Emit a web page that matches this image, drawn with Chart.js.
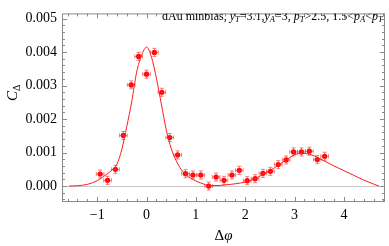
<!DOCTYPE html>
<html>
<head>
<meta charset="utf-8">
<script src="https://cdn.jsdelivr.net/npm/chart.js@4.4.0/dist/chart.umd.min.js"></script>
<style>
  html, body { margin: 0; padding: 0; background: #fff; }
  #wrap { width: 389px; height: 246px; }
</style>
</head>
<body>
<div id="wrap"><canvas id="grafico"></canvas></div>
<script>
// datos
const phi = [-0.94, -0.79, -0.63, -0.47, -0.31, -0.16, 0.00, 0.16, 0.31, 0.47, 0.63, 0.79, 0.94, 1.10, 1.26,
             1.41, 1.57, 1.73, 1.88, 2.04, 2.20, 2.36, 2.51, 2.67, 2.83, 2.98, 3.14, 3.30, 3.46, 3.61];
const cDelta = [0.00036, 0.00017, 0.00050, 0.00151, 0.00302, 0.00387, 0.00334, 0.00399, 0.00280, 0.00145, 0.00093,
                0.00037, 0.00033, 0.00033, 0.00000, 0.00027, 0.00017, 0.00033, 0.00047, 0.00016, 0.00022, 0.00038,
                0.00044, 0.00064, 0.00078, 0.00102, 0.00102, 0.00104, 0.00079, 0.00089];
const phiErr = [0.078, 0.078, 0.078, 0.078, 0.078, 0.078, 0.078, 0.078, 0.078, 0.078, 0.078, 0.078, 0.078, 0.078, 0.078,
                0.078, 0.078, 0.078, 0.078, 0.078, 0.078, 0.078, 0.078, 0.078, 0.078, 0.078, 0.078, 0.078, 0.078, 0.078];
const cErr = [0.00012, 0.00012, 0.00012, 0.00012, 0.00012, 0.00012, 0.00012, 0.00012, 0.00012, 0.00012, 0.00012,
              0.00012, 0.00012, 0.00012, 0.00012, 0.00012, 0.00012, 0.00012, 0.00012, 0.00012, 0.00012, 0.00012,
              0.00012, 0.00012, 0.00012, 0.00012, 0.00012, 0.00012, 0.00012, 0.00012];

// curva de ajuste
const fitPhi = [-1.57, -1.4, -1.2, -1.0, -0.9, -0.8, -0.7, -0.6, -0.5, -0.4, -0.3, -0.2, -0.1, 0, 0.1, 0.2, 0.3, 0.4,
                0.5, 0.6, 0.7, 0.8, 0.9, 1.0, 1.1, 1.2, 1.3, 1.5, 1.7, 1.9, 2.1, 2.3, 2.5, 2.7, 2.9, 3.0, 3.14, 3.3,
                3.4, 3.6, 3.8, 4.0, 4.2, 4.4, 4.6, 4.71];
const fitC = [0, 0.00001, 0.00005, 0.00016, 0.00025, 0.00036, 0.00048, 0.00065, 0.00110, 0.00178, 0.00252, 0.00340,
              0.00390, 0.00415, 0.00385, 0.00322, 0.00245, 0.00168, 0.00112, 0.00076, 0.00050, 0.00033, 0.00023,
              0.00015, 0.00009, 0.00004, 0.00001, 0.00002, 0.00005, 0.00009, 0.00016, 0.00030, 0.00046, 0.00065,
              0.00085, 0.00093, 0.00098, 0.00095, 0.00090, 0.00075, 0.00060, 0.00046, 0.00032, 0.00018, 0.00006, 0];

const xTicks = [-1, 0, 1, 2, 3, 4];
const yTicks = [0, 0.001, 0.002, 0.003, 0.004, 0.005];

const serif = "'Liberation Serif', 'DejaVu Serif', serif";
const frameColor = '#8a8a8a';

// barras de error
const errorBars = {
    id: 'errorBars',
    afterDatasetsDraw(chart) {
        const ctx = chart.ctx;
        const xs = chart.scales.x, ys = chart.scales.y;
        ctx.save();
        ctx.strokeStyle = 'rgba(255,40,40,0.6)';
        ctx.lineWidth = 1;
        phi.forEach((p, i) => {
            const px = xs.getPixelForValue(p), py = ys.getPixelForValue(cDelta[i]);
            const x0 = xs.getPixelForValue(p - phiErr[i]), x1 = xs.getPixelForValue(p + phiErr[i]);
            const y0 = ys.getPixelForValue(cDelta[i] - cErr[i]), y1 = ys.getPixelForValue(cDelta[i] + cErr[i]);
            ctx.beginPath();
            ctx.moveTo(x0, py); ctx.lineTo(x1, py);
            ctx.moveTo(x0, py - 2); ctx.lineTo(x0, py + 2);
            ctx.moveTo(x1, py - 2); ctx.lineTo(x1, py + 2);
            ctx.moveTo(px, y0); ctx.lineTo(px, y1);
            ctx.moveTo(px - 2, y0); ctx.lineTo(px + 2, y0);
            ctx.moveTo(px - 2, y1); ctx.lineTo(px + 2, y1);
            ctx.stroke();
        });
        ctx.restore();
    }
};

// marco con ticks hacia adentro, linea cero y textos
const frame = {
    id: 'frame',
    beforeDatasetsDraw(chart) {
        const ctx = chart.ctx, a = chart.chartArea;
        const ys = chart.scales.y;
        ctx.save();
        ctx.strokeStyle = '#c8c8c8';
        ctx.lineWidth = 1;
        const y0 = Math.round(ys.getPixelForValue(0)) + 0.5;
        ctx.beginPath(); ctx.moveTo(a.left, y0); ctx.lineTo(a.right, y0); ctx.stroke();
        ctx.restore();
    },
    afterDraw(chart) {
        const ctx = chart.ctx, a = chart.chartArea;
        const xs = chart.scales.x, ys = chart.scales.y;
        ctx.save();
        ctx.strokeStyle = frameColor;
        ctx.lineWidth = 1;
        ctx.strokeRect(a.left + 0.5, a.top + 0.5, a.right - a.left - 1, a.bottom - a.top - 1);
        ctx.beginPath();
        for (let k = -8; k <= 24; k++) {
            const v = k * 0.2;
            if (v < xs.min || v > xs.max) continue;
            const px = Math.round(xs.getPixelForValue(v)) + 0.5;
            const len = (k % 5 === 0) ? 5 : 3;
            ctx.moveTo(px, a.bottom); ctx.lineTo(px, a.bottom - len);
            ctx.moveTo(px, a.top); ctx.lineTo(px, a.top + len);
        }
        for (let k = -2; k <= 25; k++) {
            const v = k * 0.0002;
            if (v < ys.min || v > ys.max) continue;
            const py = Math.round(ys.getPixelForValue(v)) + 0.5;
            const len = (k % 5 === 0) ? 5 : 3;
            ctx.moveTo(a.left, py); ctx.lineTo(a.left + len, py);
            ctx.moveTo(a.right, py); ctx.lineTo(a.right - len, py);
        }
        ctx.stroke();

        // titulo interno
        ctx.fillStyle = '#000';
        ctx.textBaseline = 'alphabetic';
        let x = 162;
        const base = 20;
        const big = 12, small = 8.5;
        const part = (t, style, size, dy) => {
            ctx.font = style + ' ' + size + 'px ' + serif;
            ctx.fillText(t, x, base + dy);
            x += ctx.measureText(t).width;
        };
        ctx.beginPath();
        ctx.rect(a.left, a.top, a.right - a.left, a.bottom - a.top);
        ctx.clip();
        part('dAu minbias, ', '', big, 0);
        part('y', 'italic', big, 0); part('T', 'italic', small, 2);
        part('=3.1,', '', big, 0);
        part('y', 'italic', big, 0); part('A', 'italic', small, 2);
        part('=3, ', '', big, 0);
        part('p', 'italic', big, 0); part('T', 'italic', small, 2);
        part('>2.5, 1.5<', '', big, 0);
        part('p', 'italic', big, 0); part('A', 'italic', small, 2);
        part('<', '', big, 0);
        part('p', 'italic', big, 0); part('T', 'italic', small, 2);
        ctx.restore();

        // etiquetas de ejes
        ctx.save();
        ctx.fillStyle = '#000';
        ctx.textBaseline = 'alphabetic';
        const lx = (a.left + a.right) / 2;
        ctx.font = '15px ' + serif;
        const wD = ctx.measureText('\u0394').width;
        ctx.font = 'italic 15px ' + serif;
        const wP = ctx.measureText('\u03c6').width;
        ctx.font = '15px ' + serif;
        ctx.fillText('\u0394', lx - (wD + wP) / 2, 240);
        ctx.font = 'italic 15px ' + serif;
        ctx.fillText('\u03c6', lx - (wD + wP) / 2 + wD, 240);

        ctx.translate(17, 101);
        ctx.rotate(-Math.PI / 2);
        ctx.font = 'italic 15px ' + serif;
        ctx.fillText('C', 0, 0);
        const wC = ctx.measureText('C').width;
        ctx.font = '10px ' + serif;
        ctx.fillText('\u0394', wC, 3);
        ctx.restore();
    }
};

new Chart(document.getElementById('grafico'), {
    data: {
        datasets: [
            {
                type: 'line',
                label: 'ajuste',
                data: fitPhi.map((p, i) => ({ x: p, y: fitC[i] })),
                borderColor: '#ff1a1a',
                borderWidth: 1,
                pointRadius: 0,
                fill: false,
                cubicInterpolationMode: 'monotone'
            },
            {
                type: 'scatter',
                label: 'datos',
                data: phi.map((p, i) => ({ x: p, y: cDelta[i] })),
                backgroundColor: '#ff0000',
                borderWidth: 0,
                pointRadius: 2.6
            }
        ]
    },
    options: {
        responsive: true,
        maintainAspectRatio: false,
        animation: false,
        layout: { padding: { top: 1, right: 1, left: 0, bottom: 0 } },
        plugins: {
            legend: { display: false },
            tooltip: { enabled: false }
        },
        scales: {
            x: {
                type: 'linear',
                min: -1.713,
                max: 4.833,
                afterBuildTicks: s => { s.ticks = xTicks.map(v => ({ value: v })); },
                afterFit: s => { s.height = 44; },
                grid: { display: false, drawTicks: false },
                border: { display: false },
                ticks: {
                    padding: 5,
                    color: '#000',
                    font: { family: serif, size: 14 },
                    callback: v => v < 0 ? '\u2212' + Math.abs(v) : String(v)
                }
            },
            y: {
                type: 'linear',
                min: -0.000476,
                max: 0.005154,
                afterBuildTicks: s => { s.ticks = yTicks.map(v => ({ value: v })); },
                afterFit: s => { s.width = 62; },
                grid: { display: false, drawTicks: false },
                border: { display: false },
                ticks: {
                    padding: 5,
                    color: '#000',
                    font: { family: serif, size: 14 },
                    callback: v => v.toFixed(3)
                }
            }
        }
    },
    plugins: [frame, errorBars]
});
</script>
</body>
</html>
